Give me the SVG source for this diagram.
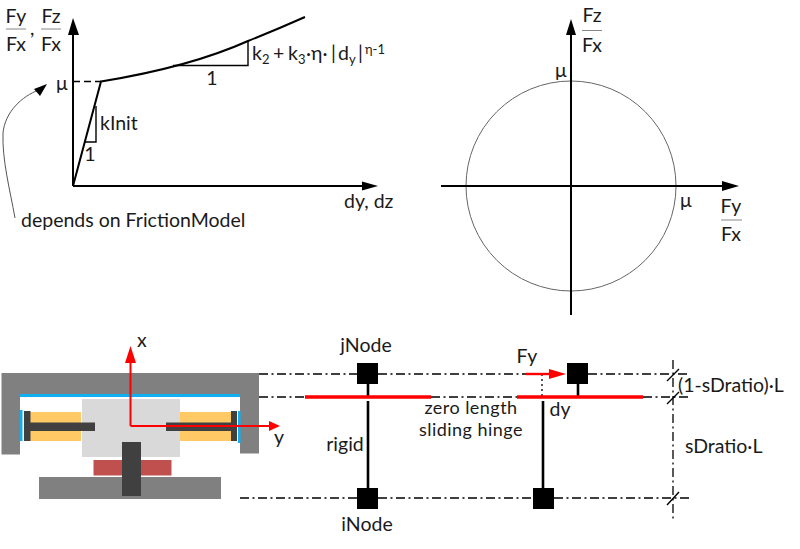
<svg xmlns="http://www.w3.org/2000/svg" width="800" height="549" viewBox="0 0 800 549">
<style>
text{font-family:Lato,"Liberation Sans",sans-serif;font-size:19.5px;fill:#1a1a1a}
.c{text-anchor:middle}
.ax{stroke:#000;stroke-width:2;fill:none}
.th{stroke:#000;stroke-width:1.4;fill:none}
.dd{stroke:#000;stroke-width:1.3;stroke-dasharray:9 3.5 2 3.5;fill:none}
.red{stroke:#f00;stroke-width:3.6;fill:none}
.rod{stroke:#000;stroke-width:2.6;fill:none}
.nd{fill:#000}
.frac{stroke:#888;stroke-width:1}
.sub{font-size:13px}
.hinge{font-size:18px;letter-spacing:.45px}
</style>
<g id="friction-curve">
<path class="ax" d="M73 186V34M73 186H363"/>
<path d="M73 18L68 35H79ZM378 186L362 181.5V190.5Z" fill="#000"/>
<path class="ax" d="M73 186L101 81.5Q190 67 248 41Q278 29 305 17"/>
<path d="M73 81.5H101" stroke="#000" stroke-width="1.4" stroke-dasharray="7 4" fill="none"/>
<path class="th" d="M248 41V65.5H173M96 106V142H85"/>
<path d="M15 218C10 190 2 160 3 133C5 112 22 96 39 90" stroke="#555" stroke-width="1" fill="none"/>
<path d="M47 84L34 89L40 96Z" fill="#000"/>
<path class="frac" d="M6 29H26M41 29H61"/>
<text class="c" x="16" y="23">Fy</text><text class="c" x="51" y="23">Fz</text>
<text class="c" x="16" y="51">Fx</text><text class="c" x="51" y="51">Fx</text>
<text x="30" y="35">,</text>
<text x="56" y="90">μ</text>
<text x="100" y="130">kInit</text>
<text class="c" x="90" y="161">1</text>
<text class="c" x="212" y="85">1</text>
<text x="252" y="60">k</text><text class="sub" x="262" y="64">2</text>
<text x="273" y="60">+</text><text x="288" y="60">k</text><text class="sub" x="298" y="64">3</text>
<text x="306" y="60">·η·</text><text x="331" y="60">|</text>
<text x="338" y="60">d</text><text class="sub" x="349" y="64">y</text>
<text x="358" y="60">|</text><text class="sub" x="365" y="54">η-1</text>
<text x="344" y="208">dy, dz</text>
<text x="21" y="227">depends on FrictionModel</text>
</g>
<g id="friction-circle">
<circle cx="571" cy="186" r="105" fill="none" stroke="#666" stroke-width="1"/>
<path class="ax" d="M571 315V34M441 186H723"/>
<path d="M571 19L566 35H576ZM739 186L722 181V191Z" fill="#000"/>
<path class="frac" d="M582 30.500H602M721 220H742"/>
<text class="c" x="592" y="22">Fz</text><text class="c" x="592" y="52">Fx</text>
<text class="c" x="731" y="213">Fy</text><text class="c" x="731" y="241">Fx</text>
<text x="555" y="77">μ</text><text x="680" y="207">μ</text>
</g>
<g id="bearing">
<path d="M1.500 373H259V453.500H240V395H20V454.500H1.500Z" fill="#808080"/>
<rect x="20" y="394" width="220" height="3" fill="#10b0f0"/>
<rect x="20" y="410" width="2.500" height="31" fill="#10b0f0"/>
<rect x="238" y="411" width="2.500" height="32" fill="#10b0f0"/>
<rect x="30" y="412" width="51" height="29" fill="#ffc966"/>
<rect x="180" y="412" width="55" height="29" fill="#ffc966"/>
<rect x="82" y="399" width="98" height="58" fill="#d9d9d9"/>
<path d="M24 411H30.500V422.500H95V431H30.500V441H24ZM237 411H231V422.500H166V431H231V441H237Z" fill="#404040"/>
<rect x="93.500" y="460" width="78" height="15.500" fill="#c0504d"/>
<rect x="39" y="477" width="182" height="22" fill="#808080"/>
<rect x="122" y="442" width="19" height="54" fill="#404040"/>
<path d="M130.500 426V360M130.500 426H270" stroke="#f00" stroke-width="2" fill="none"/>
<path d="M130.500 346L125 363H136ZM280 426L269 421V431Z" fill="#f00"/>
<text x="137" y="347">x</text>
<text x="274" y="444">y</text>
</g>
<g id="connectors">
<path class="dd" d="M259 374H357M378 374H526M588 374H687M259 397H305M431 397H517M643 397H690M240 498H357M378 498H533M554 498H690M673 360V521"/>
<path class="th" d="M667 381L679 369M667 404L679 392M667 505L679 492"/>
<path class="rod" d="M368 384V397M368 401V488M543 401V488M578 384V397"/>
<path d="M542 374V397" stroke="#000" stroke-width="1.300" stroke-dasharray="2 3" fill="none"/>
<path class="red" d="M305 397H431M517 397H643"/>
<path d="M526 374H552" stroke="#f00" stroke-width="2.400" fill="none"/>
<path d="M566 374L549 369V379Z" fill="#f00"/>
</g>
<g id="jNode"><rect class="nd" x="357" y="363" width="21" height="21"/><text class="c" x="366" y="352">jNode</text></g>
<g id="iNode"><rect class="nd" x="357" y="488" width="21" height="21"/><text class="c" x="367" y="531">iNode</text></g>
<g id="jNode-displaced"><rect class="nd" x="567" y="363" width="21" height="21"/><text class="c" x="527" y="363">Fy</text></g>
<g id="iNode-fixed"><rect class="nd" x="533" y="488" width="21" height="21"/></g>
<g id="labels">
<text class="c hinge" x="345" y="451" style="font-size:19.5px;letter-spacing:0">rigid</text>
<text class="c hinge" x="471" y="414">zero length</text>
<text class="c hinge" x="471" y="436">sliding hinge</text>
<text class="c" x="560" y="416">dy</text>
<text x="678" y="392">(1-sDratio)·L</text>
<text x="685" y="453">sDratio·L</text>
</g>
</svg>
